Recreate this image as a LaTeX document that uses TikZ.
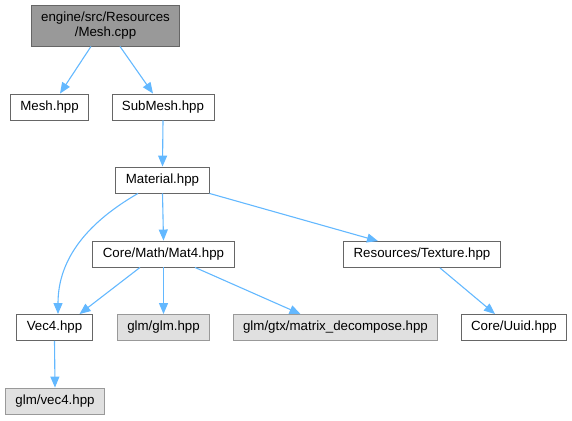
\documentclass[tikz,border=0pt]{standalone}
\usepackage{fontspec}
\setmainfont{Liberation Sans}
\usetikzlibrary{arrows.meta}
\definecolor{edgeblue}{HTML}{63B8FF}
\definecolor{boxline}{HTML}{666666}
\definecolor{mainfill}{HTML}{999999}
\definecolor{extfill}{HTML}{E0E0E0}
\definecolor{extline}{HTML}{999999}
\begin{document}
\begin{tikzpicture}[x=1pt,y=1pt,
    file/.style={draw=boxline,line width=0.9pt,fill=white,minimum height=26pt,inner xsep=10pt,
        font=\fontsize{13.3}{15.5}\selectfont},
    mainfile/.style={file,fill=mainfill,align=center,minimum height=41pt},
    extfile/.style={file,draw=extline,fill=extfill},
    dep/.style={draw=edgeblue,line width=1.1pt,-{Triangle[length=11pt,width=9pt]}}]
    % 画布大小
    \useasboundingbox (0,0) rectangle (572,-420);

\node[mainfile] (cpp) at (105.5,-25.5) {engine/src/Resources\\/Mesh.cpp};
\node[file] (meshh) at (49.5,-107) {Mesh.hpp};
\node[file] (subh) at (163,-107) {SubMesh.hpp};
\node[file] (mat) at (162.5,-180) {Material.hpp};
\node[file] (mat4) at (163.5,-254) {Core/Math/Mat4.hpp};
\node[file] (tex) at (422,-254.5) {Resources/Texture.hpp};
\node[file] (vec4) at (54.5,-327.5) {Vec4.hpp};
\node[extfile] (glm) at (163.5,-327.5) {glm/glm.hpp};
\node[extfile] (dec) at (335.5,-327.5) {glm/gtx/matrix\_decompose.hpp};
\node[file] (uuid) at (514,-327.5) {Core/Uuid.hpp};
\node[extfile] (glmvec) at (55,-401) {glm/vec4.hpp};

    % 依赖关系
\draw[dep] ([xshift=-14.5pt]cpp.south) -- ([xshift=10.5pt]meshh.north);
\draw[dep] ([xshift=14.5pt]cpp.south) -- ([xshift=-10pt]subh.north);
\draw[dep] (subh.south) -- (mat.north);
\draw[dep] (mat.south) -- (mat4.north);
\draw[dep] (mat.south east) -- ([xshift=-44pt]tex.north);
\draw[dep] ([xshift=-24.5pt]mat.south) to[out=210,in=90] ([xshift=3.5pt]vec4.north);
\draw[dep] ([xshift=-23.5pt]mat4.south) -- ([xshift=25pt]vec4.north);
\draw[dep] (mat4.south) -- (glm.north);
\draw[dep] ([xshift=31.5pt]mat4.south) -- ([xshift=-35pt]dec.north);
\draw[dep] ([xshift=18pt]tex.south) -- ([xshift=-19pt]uuid.north);
\draw[dep] (vec4.south) -- (glmvec.north);
\end{tikzpicture}
\end{document}
